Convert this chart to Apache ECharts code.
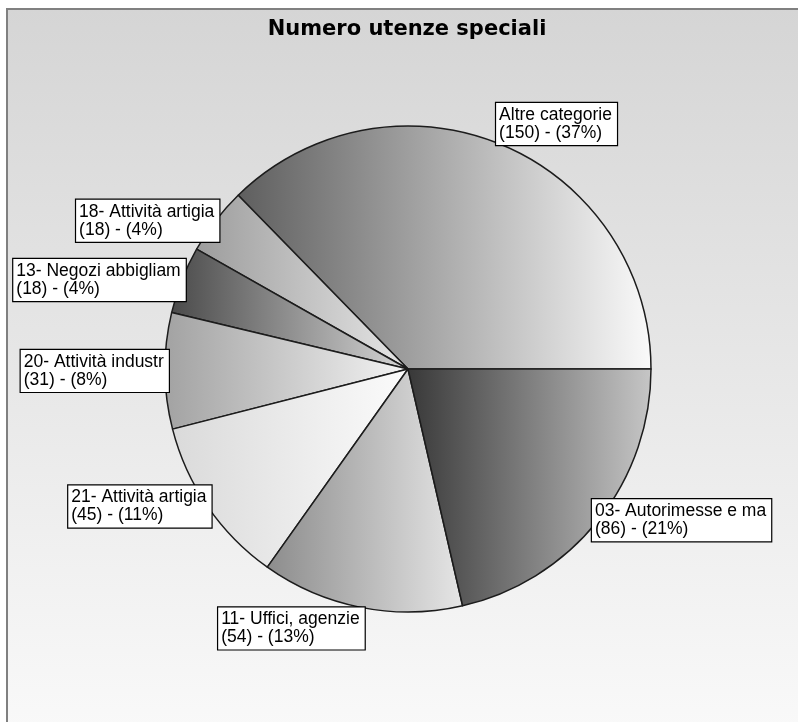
<!DOCTYPE html>
<html>
<head>
<meta charset="utf-8">
<script src="https://cdn.jsdelivr.net/npm/echarts@6/dist/echarts.min.js"></script>
<style>
html,body{margin:0;padding:0;background:#ffffff;}
#chart{width:798px;height:722px;}
</style>
</head>
<body>
<div id="chart"></div>
<script>
// Data (counter-clockwise from 3 o'clock)
const categories = [
  'Altre categorie',
  '18- Attività artigia',
  '13- Negozi abbigliam',
  '20- Attività industr',
  '21- Attività artigia',
  '11- Uffici, agenzie',
  '03- Autorimesse e ma'
];
const values = [150, 18, 18, 31, 45, 54, 86];
const titleText = 'Numero utenze speciali';

// Per-slice gradient colours (left, right)
const sliceDark  = ['#5e5e5e', '#9c9c9c', '#4a4a4a', '#a2a2a2', '#dadada', '#8c8c8c', '#383838'];
const sliceLight = ['#fafafa', '#e6e6e6', '#d6d6d6', '#f4f4f4', '#fbfbfb', '#e6e6e6', '#c6c6c6'];

const total = values.reduce((a, b) => a + b, 0);
function midSin(i) {
  let before = 0;
  for (let k = 0; k < i; k++) before += values[k];
  const a = (before + values[i] / 2) / total * 2 * Math.PI;
  return Math.sin(a);
}

const chart = echarts.init(document.getElementById('chart'), null, {renderer: 'canvas'});
const data = categories.map((name, i) => ({
  name: name,
  value: values[i],
  itemStyle: {
    color: new echarts.graphic.LinearGradient(0, 0, 1, 0, [
      {offset: 0, color: sliceDark[i]},
      {offset: 1, color: sliceLight[i]}
    ])
  }
}));

chart.setOption({
  animation: false,
  backgroundColor: '#ffffff',
  graphic: [{
    type: 'rect',
    z: -10,
    silent: true,
    shape: {x: 7, y: 9, width: 800, height: 720},
    style: {
      fill: new echarts.graphic.LinearGradient(0, 0, 0, 1, [
        {offset: 0, color: '#d5d5d5'},
        {offset: 1, color: '#f9f9f9'}
      ]),
      stroke: '#808080',
      lineWidth: 2
    }
  }],
  title: {
    text: titleText,
    left: 402,
    top: 14,
    textAlign: 'center',
    textStyle: {
      fontFamily: 'DejaVu Sans',
      fontWeight: 'bold',
      fontSize: 21,
      color: '#000000'
    }
  },
  series: [{
    type: 'pie',
    center: [408, 369],
    radius: 243,
    startAngle: 0,
    clockwise: false,
    avoidLabelOverlap: false,
    data: data,
    itemStyle: {
      borderColor: '#1c1c1c',
      borderWidth: 1.5
    },
    label: {
      show: true,
      position: 'outside',
      distanceToLabelLine: -5,
      formatter: function (p) {
        return p.name + '\n(' + p.value + ') - (' + Math.round(p.value / total * 100) + '%)';
      },
      fontFamily: 'Liberation Sans',
      fontSize: 17.5,
      lineHeight: 18,
      color: '#000000',
      backgroundColor: '#ffffff',
      borderColor: '#000000',
      borderWidth: 1.2,
      padding: [3, 5, 3, 3]
    },
    labelLine: {show: false, length: 0, length2: 0},
    labelLayout: function (p) {
      const s = midSin(p.dataIndex);
      const out = {x: p.labelRect.x, align: 'left'};
      if (s > 0.9) out.verticalAlign = 'bottom';
      else if (s < -0.9) out.verticalAlign = 'top';
      return out;
    },
    emphasis: {disabled: true}
  }]
});
</script>
</body>
</html>
